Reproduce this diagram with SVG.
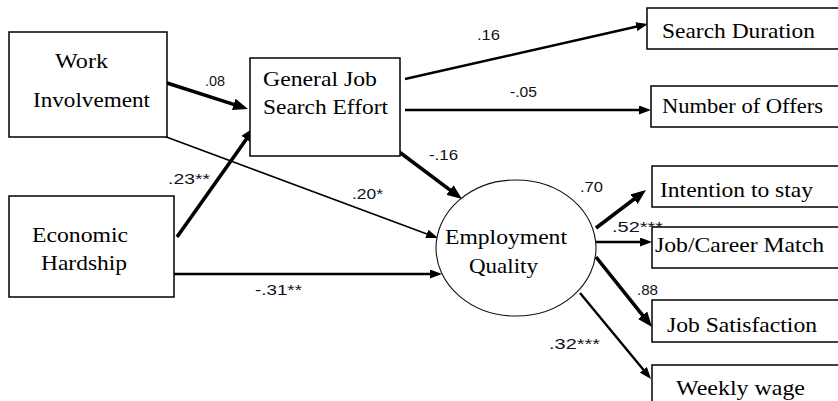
<svg xmlns="http://www.w3.org/2000/svg" width="838" height="401" viewBox="0 0 838 401">
  <style>
    .box { fill: #ffffff; stroke: #000000; stroke-width: 1.5; }
    .ell { fill: #ffffff; stroke: #111111; stroke-width: 1.1; }
    .lbl { font-family: "Liberation Serif", "Times New Roman", serif; font-size: 21px; fill: #000000; }
    .coef { font-family: "Liberation Sans", Arial, sans-serif; font-size: 15px; fill: #111122; }
    .c { fill: none; stroke: #000000; stroke-linecap: butt; }
    .w1 { stroke-width: 1.6; }
    .w2 { stroke-width: 2.4; }
    .w3 { stroke-width: 3.6; }
  </style>
  <defs>
    <marker id="ah" viewBox="0 0 12 9" refX="3" refY="4.5" markerWidth="12" markerHeight="9" markerUnits="userSpaceOnUse" orient="auto">
      <path d="M0,0 L12,4.5 L0,9 z" fill="#000000"/>
    </marker>
    <marker id="ahb" viewBox="0 0 15 12" refX="4" refY="6" markerWidth="15" markerHeight="12" markerUnits="userSpaceOnUse" orient="auto">
      <path d="M0,0 L15,6 L0,12 z" fill="#000000"/>
    </marker>
  </defs>

  <rect width="838" height="401" fill="#ffffff"/>

  <!-- paths between constructs -->
  <g id="connectors">
    <line class="c w3" x1="167" y1="83" x2="237.5" y2="105.6" marker-end="url(#ahb)"/>
    <line class="c w1" x1="161" y1="135" x2="429.6" y2="234.9" marker-end="url(#ah)"/>
    <line class="c w3" x1="177" y1="237" x2="248.6" y2="136" marker-end="url(#ahb)"/>
    <line class="c w2" x1="174" y1="274" x2="433" y2="274" marker-end="url(#ah)"/>
    <line class="c w2" x1="405" y1="79" x2="639.2" y2="26" marker-end="url(#ah)"/>
    <line class="c w2" x1="405" y1="110" x2="642" y2="110" marker-end="url(#ah)"/>
    <line class="c w3" x1="398" y1="151" x2="453.2" y2="192.4" marker-end="url(#ahb)"/>
    <line class="c w3" x1="596" y1="228" x2="637.2" y2="196.7" marker-end="url(#ahb)"/>
    <line class="c w2" x1="596" y1="242" x2="643" y2="242" marker-end="url(#ah)"/>
    <line class="c w3" x1="596" y1="257" x2="645.1" y2="318.4" marker-end="url(#ahb)"/>
    <line class="c w2" x1="580" y1="293" x2="645.3" y2="372.1" marker-end="url(#ah)"/>
  </g>

  <!-- path coefficients -->
  <g id="coefficients">
    <text class="coef" x="205" y="86" textLength="20" lengthAdjust="spacingAndGlyphs">.08</text>
    <text class="coef" x="168" y="184" textLength="42" lengthAdjust="spacingAndGlyphs">.23**</text>
    <text class="coef" x="352" y="199" textLength="31" lengthAdjust="spacingAndGlyphs">.20*</text>
    <text class="coef" x="255" y="295" textLength="47" lengthAdjust="spacingAndGlyphs">-.31**</text>
    <text class="coef" x="477" y="40" textLength="23" lengthAdjust="spacingAndGlyphs">.16</text>
    <text class="coef" x="510" y="97" textLength="27" lengthAdjust="spacingAndGlyphs">-.05</text>
    <text class="coef" x="429" y="160" textLength="29" lengthAdjust="spacingAndGlyphs">-.16</text>
    <text class="coef" x="580" y="192" textLength="23" lengthAdjust="spacingAndGlyphs">.70</text>
    <text class="coef" x="612" y="232" textLength="51" lengthAdjust="spacingAndGlyphs">.52***</text>
    <text class="coef" x="637" y="295" textLength="21" lengthAdjust="spacingAndGlyphs">.88</text>
    <text class="coef" x="549" y="349" textLength="51" lengthAdjust="spacingAndGlyphs">.32***</text>
  </g>

  <g id="work-involvement">
    <rect class="box" x="9" y="32" width="158" height="105"/>
    <text class="lbl" x="55" y="68" textLength="53" lengthAdjust="spacingAndGlyphs">Work</text>
    <text class="lbl" x="33" y="107" textLength="117" lengthAdjust="spacingAndGlyphs">Involvement</text>
  </g>

  <g id="economic-hardship">
    <rect class="box" x="9" y="196" width="165" height="101"/>
    <text class="lbl" x="32" y="242" textLength="96" lengthAdjust="spacingAndGlyphs">Economic</text>
    <text class="lbl" x="41" y="270" textLength="86" lengthAdjust="spacingAndGlyphs">Hardship</text>
  </g>

  <g id="job-search-effort">
    <rect class="box" x="250" y="58" width="150" height="98"/>
    <text class="lbl" x="263" y="86" textLength="114" lengthAdjust="spacingAndGlyphs">General Job</text>
    <text class="lbl" x="263" y="114" textLength="125" lengthAdjust="spacingAndGlyphs">Search Effort</text>
  </g>

  <g id="employment-quality">
    <ellipse class="ell" cx="516" cy="248" rx="80" ry="68"/>
    <text class="lbl" x="445" y="244" textLength="122" lengthAdjust="spacingAndGlyphs">Employment</text>
    <text class="lbl" x="469" y="273" textLength="69" lengthAdjust="spacingAndGlyphs">Quality</text>
  </g>

  <g id="search-duration">
    <rect class="box" x="647" y="8" width="200" height="41"/>
    <text class="lbl" x="662" y="38" textLength="153" lengthAdjust="spacingAndGlyphs">Search Duration</text>
  </g>

  <g id="number-of-offers">
    <rect class="box" x="651" y="86" width="200" height="41"/>
    <text class="lbl" x="662" y="113" textLength="161" lengthAdjust="spacingAndGlyphs">Number of Offers</text>
  </g>

  <g id="intention-to-stay">
    <rect class="box" x="652" y="166" width="200" height="41"/>
    <text class="lbl" x="660" y="197" textLength="153" lengthAdjust="spacingAndGlyphs">Intention to stay</text>
  </g>

  <g id="job-career-match">
    <rect class="box" x="652" y="227" width="200" height="41"/>
    <text class="lbl" x="655" y="252" textLength="169" lengthAdjust="spacingAndGlyphs">Job/Career Match</text>
  </g>

  <g id="job-satisfaction">
    <rect class="box" x="652" y="300" width="200" height="42"/>
    <text class="lbl" x="667" y="332" textLength="150" lengthAdjust="spacingAndGlyphs">Job Satisfaction</text>
  </g>

  <g id="weekly-wage">
    <rect class="box" x="652" y="365" width="200" height="45"/>
    <text class="lbl" x="676" y="395" textLength="129" lengthAdjust="spacingAndGlyphs">Weekly wage</text>
  </g>
</svg>
